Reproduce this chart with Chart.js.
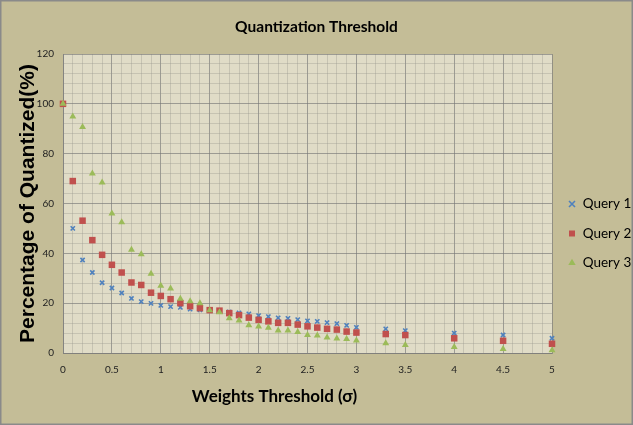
<!DOCTYPE html>
<html>
<head>
<meta charset="utf-8">
<script src="https://cdn.jsdelivr.net/npm/chart.js@4.4.1/dist/chart.umd.min.js"></script>
<style>
  html, body { margin: 0; padding: 0; background: #C4BD97; }
  #wrap { width: 633px; height: 425px; }
</style>
</head>
<body>
<div id="wrap"><canvas id="qChart" width="633" height="425"></canvas></div>
<script>
const xValues = [0, 0.1, 0.2, 0.3, 0.4, 0.5, 0.6, 0.7, 0.8, 0.9, 1.0, 1.1, 1.2, 1.3, 1.4, 1.5, 1.6, 1.7, 1.8, 1.9,
  2.0, 2.1, 2.2, 2.3, 2.4, 2.5, 2.6, 2.7, 2.8, 2.9, 3.0, 3.3, 3.5, 4, 4.5, 5];
const query1 = [100, 50.0, 37.3, 32.3, 28.2, 26.1, 24.1, 21.9, 20.6, 19.9, 19.1, 18.6, 18.3, 17.6, 17.3, 17.0, 16.8, 16.5, 16.1, 15.7,
  15.0, 14.6, 14.1, 13.9, 13.4, 12.9, 12.7, 12.2, 11.8, 11.1, 10.3, 9.7, 9.0, 8.0, 7.2, 5.9];
const query2 = [100, 69.0, 53.1, 45.3, 39.4, 35.4, 32.3, 28.3, 27.3, 24.2, 22.9, 21.6, 20.0, 18.8, 18.0, 17.2, 17.0, 16.0, 15.2, 14.2,
  13.3, 12.7, 12.1, 12.1, 11.4, 10.7, 10.2, 9.7, 9.4, 8.6, 8.2, 7.6, 7.2, 5.9, 4.9, 3.7];
const query3 = [100, 94.9, 90.7, 72.0, 68.4, 56.0, 52.5, 41.4, 39.6, 31.8, 27.0, 25.9, 21.8, 20.8, 20.0, 17.2, 16.4, 13.9, 13.0, 11.1,
  10.6, 10.1, 9.0, 9.0, 8.4, 7.2, 7.0, 6.2, 5.8, 5.6, 5.0, 3.9, 3.2, 2.4, 1.6, 1.1];
const seriesNames = ['Query 1', 'Query 2', 'Query 3'];
const xTickLabels = ['0', '0.5', '1', '1.5', '2', '2.5', '3', '3.5', '4', '4.5', '5'];
const yTickLabels = ['0', '20', '40', '60', '80', '100', '120'];

const face = "Lato, 'Liberation Sans', sans-serif";
const majorGrid = 'rgba(120,120,120,0.65)';
const minorGrid = 'rgba(150,150,140,0.35)';

function points(ys) {
  return xValues.map((x, i) => ({ x: x, y: ys[i] }));
}

function labelFor(list, v) {
  const hit = list.find(l => Math.abs(Number(l) - v) < 1e-6);
  return hit === undefined ? '' : hit;
}

const bgPlugin = {
  id: 'bg',
  beforeDraw(chart) {
    const { ctx, chartArea: a, width, height } = chart;
    ctx.save();
    ctx.fillStyle = '#C4BD97';
    ctx.fillRect(0, 0, width, height);
    ctx.fillStyle = '#E0DCC7';
    ctx.fillRect(a.left, a.top, a.right - a.left, a.bottom - a.top);
    ctx.strokeStyle = '#8a8a8a';
    ctx.lineWidth = 1.5;
    ctx.strokeRect(0.75, 0.75, width - 1.5, height - 1.5);
    ctx.restore();
  }
};

// later series sit on top, like the original
new Chart(document.getElementById('qChart'), {
  type: 'scatter',
  data: {
    datasets: [
      {
        label: seriesNames[0],
        data: points(query1),
        order: 2,
        pointStyle: 'crossRot',
        pointRadius: 3,
        borderColor: '#4F81BD',
        backgroundColor: '#4F81BD',
        borderWidth: 1.6,
        clip: false
      },
      {
        label: seriesNames[1],
        data: points(query2),
        order: 1,
        pointStyle: 'rect',
        pointRadius: 4.6,
        borderColor: '#C0504D',
        backgroundColor: '#C0504D',
        borderWidth: 0,
        clip: false
      },
      {
        label: seriesNames[2],
        data: points(query3),
        order: 0,
        pointStyle: 'triangle',
        pointRadius: 4,
        borderColor: '#9BBB59',
        backgroundColor: '#9BBB59',
        borderWidth: 0,
        clip: false
      }
    ]
  },
  options: {
    responsive: false,
    animation: false,
    layout: { padding: 0 },
    plugins: {
      title: {
        display: true,
        text: 'Quantization Threshold',
        color: '#000',
        font: { family: face, size: 15.5, weight: 'bold' },
        padding: { top: 18, bottom: 17.4 }
      },
      legend: {
        position: 'right',
        align: 'center',
        maxWidth: 81,
        title: { display: true, text: '', font: { size: 10 }, padding: { top: 0, bottom: 30 } },
        labels: {
          usePointStyle: true,
          boxWidth: 8,
          boxHeight: 6,
          padding: 16,
          color: '#000',
          font: { family: face, size: 13.5 },
          sort: (a, b) => a.datasetIndex - b.datasetIndex
        }
      },
      tooltip: { enabled: false }
    },
    scales: {
      x: {
        type: 'linear',
        min: 0,
        max: 5,
        afterFit(scale) { scale.height = 72; },
        ticks: {
          stepSize: 0.1,
          autoSkip: false,
          maxRotation: 0,
          minRotation: 0,
          padding: 11,
          color: '#222',
          font: { family: face, size: 10 },
          callback: v => labelFor(xTickLabels, v)
        },
        grid: {
          drawTicks: false,
          color: c => labelFor(xTickLabels, c.tick.value) !== '' ? majorGrid : minorGrid
        },
        border: { color: majorGrid },
        title: {
          display: true,
          text: 'Weights Threshold (σ)' + ' '.repeat(16),
          color: '#000',
          font: { family: face, size: 17, weight: 'bold' },
          padding: { top: 0, bottom: 17.8 }
        }
      },
      y: {
        min: 0,
        max: 120,
        afterFit(scale) { scale.width = 63; },
        ticks: {
          stepSize: 4,
          autoSkip: false,
          padding: 9,
          color: '#222',
          font: { family: face, size: 10 },
          callback: v => labelFor(yTickLabels, v)
        },
        grid: {
          drawTicks: false,
          color: c => labelFor(yTickLabels, c.tick.value) !== '' ? majorGrid : minorGrid
        },
        border: { color: majorGrid },
        title: {
          display: true,
          text: 'Percentage of Quantized(%)',
          color: '#000',
          font: { family: "'Liberation Sans', Arial, sans-serif", size: 21, weight: 'bold' },
          padding: { top: 16, bottom: 0 }
        }
      }
    }
  },
  plugins: [bgPlugin]
});
</script>
</body>
</html>
